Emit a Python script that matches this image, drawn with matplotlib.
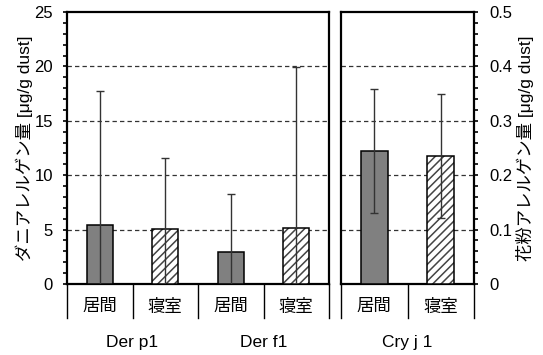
import matplotlib
matplotlib.use('Agg')
import matplotlib.pyplot as plt
from matplotlib.ticker import MultipleLocator, FuncFormatter
import matplotlib.transforms as mtrans

plt.rcParams['font.family'] = ['Liberation Sans', 'Noto Sans CJK JP']
plt.rcParams['hatch.linewidth'] = 1.1

# data
rooms = ['居間', '寝室']
mite_groups = ['Der p1', 'Der f1']
mite_mean = [5.45, 5.03, 2.97, 5.18]
mite_sd = [12.25, 6.52, 5.33, 14.8]
pollen_group = 'Cry j 1'
pollen_mean = [0.245, 0.235]
pollen_sd = [0.114, 0.114]

fig = plt.figure(figsize=(5.43, 3.55), dpi=100)
ax1 = fig.add_axes([67 / 543, 71 / 355, 262 / 543, 272 / 355])
ax2 = fig.add_axes([341 / 543, 71 / 355, 133 / 543, 272 / 355])

FS = 12.5
TFS = 12
W = 0.4
GRID = dict(color='#333333', lw=0.9, ls=(0, (3.5, 2.5)), zorder=1)


def draw_bars(ax, means, sds):
    xs = list(range(len(means)))
    for i, (m, s) in enumerate(zip(means, sds)):
        if i % 2 == 0:
            ax.bar(i, m, width=W, color='#808080', edgecolor='black', linewidth=1.1, zorder=3)
        else:
            ax.bar(i, m, width=W, color='white', edgecolor='#444444', hatch='////',
                   linewidth=0, zorder=3)
            ax.bar(i, m, width=W, color='none', edgecolor='black', linewidth=1.1, zorder=4)
    ax.errorbar(xs, means, yerr=sds, fmt='none', ecolor='#333333', elinewidth=1,
                capsize=3, capthick=1, zorder=5)
    ax.set_xlim(-0.5, len(means) - 0.5)
    ax.set_xticks([])
    for sp in ax.spines.values():
        sp.set_linewidth(1.6)
    # category table under the axis
    trans = mtrans.blended_transform_factory(ax.transData, ax.transAxes)
    for b in range(len(means) + 1):
        ax.plot([b - 0.5, b - 0.5], [0, -0.125], color='black', lw=1,
                transform=trans, clip_on=False)
    for i in xs:
        ax.text(i, -0.084, rooms[i % 2], transform=trans, ha='center', va='center',
                fontsize=FS)
    return trans


t1 = draw_bars(ax1, mite_mean, mite_sd)
ax1.set_ylim(0, 25)
ax1.yaxis.set_major_locator(MultipleLocator(5))
ax1.yaxis.set_minor_locator(MultipleLocator(1))
ax1.tick_params(axis='y', which='both', direction='out', width=1.2, length=3,
                labelsize=TFS, pad=7)
for v in [5, 10, 15, 20]:
    ax1.axhline(v, **GRID)
ax1.set_ylabel('ダニアレルゲン量 [μg/g dust]', fontsize=FS)
ax1.yaxis.set_label_coords(-0.13, 0.5)
for g, name in enumerate(mite_groups):
    ax1.text(2 * g + 0.5, -0.215, name, transform=t1, ha='center', va='center', fontsize=FS)

t2 = draw_bars(ax2, pollen_mean, pollen_sd)
ax2.set_ylim(0, 0.5)
ax2.yaxis.tick_right()
ax2.yaxis.set_label_position('right')
ax2.yaxis.set_major_locator(MultipleLocator(0.1))
ax2.yaxis.set_minor_locator(MultipleLocator(0.02))
ax2.yaxis.set_major_formatter(FuncFormatter(lambda v, p: '0' if abs(v) < 1e-9 else f'{v:.1f}'))
ax2.tick_params(axis='y', which='both', direction='out', width=1.2, length=3,
                labelsize=TFS, pad=8)
for v in [0.1, 0.2, 0.3, 0.4]:
    ax2.axhline(v, **GRID)
ax2.set_ylabel('花粉アレルゲン量 [μg/g dust]', fontsize=FS)
ax2.yaxis.set_label_coords(1.316, 0.5)
ax2.text(0.5, -0.215, pollen_group, transform=t2, ha='center', va='center', fontsize=FS)

fig.savefig('out.png', dpi=100)
